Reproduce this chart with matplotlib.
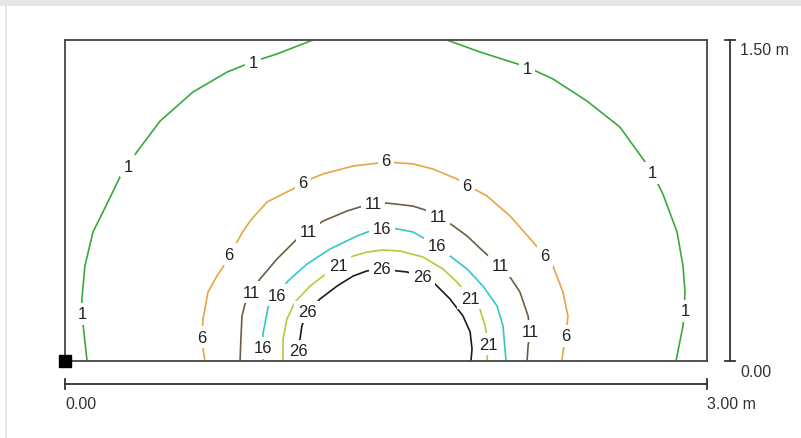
"""
Isolux diagram, 3.00 m x 1.50 m plane.
"""

import numpy as np
import matplotlib
matplotlib.use("Agg")
import matplotlib.pyplot as plt
from matplotlib.patches import Rectangle

plt.rcParams['font.family'] = ['Liberation Sans', 'DejaVu Sans']

# plane size in m
plane_w = 3.0
plane_h = 1.5

levels = [1, 6, 11, 16, 21, 26]
level_colors = ['#3aa83a', '#e9a443', '#6e5c45', '#35c7c7', '#b6ca3a', '#1c1c1c']

# contour traces (m), nan = line leaves the plane
iso_x = {
    1: [0.103, 0.079, 0.079, 0.093, 0.131, 0.196, 0.257, 0.294, 0.336, 0.444, 0.598,
        0.757, 0.874, 0.991, 1.159, np.nan,
        1.785, 1.939, 2.159, 2.280, 2.439, 2.593, 2.701, 2.743, 2.794, 2.860, 2.888,
        2.897, 2.893, 2.888, 2.869, 2.855],
    6: [0.654, 0.645, 0.640, 0.645, 0.668, 0.710, 0.738, 0.766, 0.804, 0.832, 0.870,
        0.944, 1.065, 1.112, 1.206, 1.346, 1.505, 1.626, 1.720, 1.832, 1.879, 1.972,
        2.079, 2.187, 2.243, 2.280, 2.327, 2.350, 2.341, 2.327, 2.322],
    11: [0.818, 0.822, 0.827, 0.841, 0.869, 0.911, 0.991, 1.084, 1.136, 1.206, 1.318,
         1.379, 1.439, 1.505, 1.626, 1.682, 1.743, 1.808, 1.879, 1.953, 2.033, 2.079,
         2.126, 2.164, 2.173, 2.164, 2.159],
    16: [0.925, 0.925, 0.925, 0.949, 0.991, 1.042, 1.131, 1.238, 1.364, 1.425, 1.481,
         1.533, 1.626, 1.659, 1.738, 1.799, 1.879, 1.953, 2.019, 2.047, 2.056, 2.061],
    21: [1.019, 1.019, 1.037, 1.075, 1.145, 1.206, 1.276, 1.332, 1.411, 1.486, 1.565,
         1.673, 1.766, 1.832, 1.893, 1.939, 1.963, 1.977, 1.972],
    26: [1.084, 1.089, 1.098, 1.107, 1.131, 1.192, 1.271, 1.346, 1.411, 1.481, 1.551,
         1.598, 1.668, 1.720, 1.799, 1.860, 1.893, 1.902, 1.897],
}
iso_y = {
    1: [0.0, 0.220, 0.290, 0.444, 0.603, 0.734, 0.860, 0.911, 0.977, 1.121, 1.257,
        1.350, 1.397, 1.435, 1.5, np.nan,
        1.5, 1.444, 1.374, 1.318, 1.215, 1.093, 0.944, 0.883, 0.780, 0.603, 0.444,
        0.322, 0.234, 0.164, 0.070, 0.0],
    6: [0.0, 0.056, 0.112, 0.196, 0.322, 0.397, 0.439, 0.500, 0.556, 0.607, 0.660,
        0.743, 0.804, 0.836, 0.874, 0.911, 0.930, 0.921, 0.897, 0.850, 0.822, 0.771,
        0.678, 0.556, 0.491, 0.444, 0.322, 0.210, 0.117, 0.042, 0.0],
    11: [0.0, 0.103, 0.210, 0.266, 0.322, 0.383, 0.477, 0.570, 0.607, 0.654, 0.701,
         0.720, 0.734, 0.738, 0.724, 0.706, 0.673, 0.636, 0.584, 0.514, 0.444, 0.393,
         0.322, 0.210, 0.140, 0.070, 0.0],
    16: [0.0, 0.061, 0.126, 0.252, 0.308, 0.374, 0.453, 0.523, 0.584, 0.607, 0.621,
         0.621, 0.603, 0.584, 0.542, 0.491, 0.430, 0.350, 0.257, 0.164, 0.056, 0.0],
    21: [0.0, 0.103, 0.196, 0.276, 0.350, 0.397, 0.444, 0.486, 0.509, 0.519, 0.514,
         0.486, 0.430, 0.369, 0.294, 0.243, 0.164, 0.079, 0.0],
    26: [0.0, 0.047, 0.103, 0.164, 0.229, 0.290, 0.350, 0.397, 0.421, 0.430, 0.421,
         0.416, 0.393, 0.369, 0.290, 0.210, 0.136, 0.056, 0.0],
}

# label positions on the lines (m)
label_xy = {
    1: [(0.879, 1.393), (2.159, 1.369), (0.294, 0.911), (2.743, 0.879),
        (0.079, 0.220), (2.897, 0.234)],
    6: [(1.500, 0.935), (1.112, 0.832), (1.879, 0.822), (0.766, 0.500),
        (2.243, 0.491), (0.640, 0.112), (2.341, 0.117)],
    11: [(1.439, 0.734), (1.743, 0.673), (1.136, 0.607), (2.033, 0.444),
         (0.869, 0.322), (2.173, 0.140)],
    16: [(1.481, 0.621), (1.738, 0.542), (0.991, 0.308), (0.925, 0.061)],
    21: [(1.276, 0.444), (1.893, 0.294), (1.977, 0.079)],
    26: [(1.481, 0.430), (1.668, 0.393), (1.131, 0.229), (1.089, 0.047)],
}

scale_h_labels = ['0.00', '3.00 m']
scale_v_labels = ['0.00', '1.50 m']


fig = plt.figure(figsize=(8.01, 4.39), dpi=100)
W, H = 801.0, 439.0

# light grey panel border of the screenshot
fig.add_artist(Rectangle((0, 1 - 7 / H), 1, 7 / H, transform=fig.transFigure,
                         fc='#e6e6e6', ec='none'))
fig.add_artist(Rectangle((5 / W, 0), 2 / W, 1 - 7 / H, transform=fig.transFigure,
                         fc='#e6e6e6', ec='none'))

ax = fig.add_axes([65 / W, (H - 362) / H, 642 / W, 321 / H])
ax.set_xlim(0, plane_w)
ax.set_ylim(0, plane_h)
ax.set_xticks([])
ax.set_yticks([])
for s in ax.spines.values():
    s.set_color('#444444')
    s.set_linewidth(1.3)
    s.set_zorder(4)

for lev, col in zip(levels, level_colors):
    ax.plot(iso_x[lev], iso_y[lev], color=col, lw=1.2, zorder=2,
            solid_joinstyle='round', solid_capstyle='round')
    for (lx, ly) in label_xy[lev]:
        ax.text(lx, ly, str(lev), ha='center', va='center', fontsize=12,
                color='#222222', zorder=3,
                bbox=dict(boxstyle='square,pad=0.2', fc='white', ec='none'))

# reference point
ax.plot([0], [0], 's', color='black', ms=8, clip_on=False, zorder=5)

# scale bars (m units, outside the plane)
px = plane_w / 642.0
bar_col = '#333333'
yb = -23 * px
ax.plot([0, plane_w], [yb, yb], color=bar_col, lw=1.3, clip_on=False)
for xe in [0, plane_w]:
    ax.plot([xe, xe], [yb - 5 * px, yb + 5 * px], color=bar_col, lw=1.3, clip_on=False)
ax.text(0, yb - 20 * px, scale_h_labels[0], ha='left', va='center', fontsize=11.5,
        color=bar_col)
ax.text(plane_w, yb - 20 * px, scale_h_labels[1], ha='left', va='center', fontsize=11.5,
        color=bar_col)

xb = plane_w + 23 * px
ax.plot([xb, xb], [0, plane_h], color=bar_col, lw=1.3, clip_on=False)
for ye in [0, plane_h]:
    ax.plot([xb - 5 * px, xb + 5 * px], [ye, ye], color=bar_col, lw=1.3, clip_on=False)
ax.text(xb + 10 * px, -11 * px, scale_v_labels[0], ha='left', va='center', fontsize=11.5,
        color=bar_col)
ax.text(xb + 10 * px, plane_h - 9 * px, scale_v_labels[1], ha='left', va='center',
        fontsize=11.5, color=bar_col)

fig.savefig('out.png', dpi=100)
